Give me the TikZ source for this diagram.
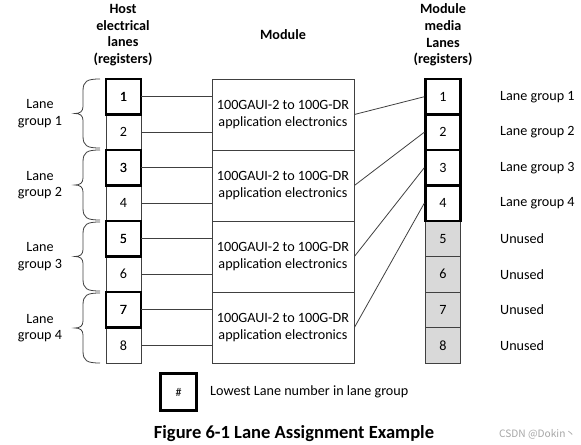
\documentclass[tikz,border=0pt]{standalone}
\usepackage{fontspec}
\setmainfont{Carlito}
\newfontfamily\cjk{Noto Sans CJK SC}
\begin{document}
\begin{tikzpicture}[x=1bp,y=-1bp,
  txt/.style={font=\fontsize{14.2}{16.7}\selectfont, inner sep=0pt, align=center},
  cell/.style={draw=black!75, line width=0.8bp, minimum width=35bp, minimum height=35.5bp, inner sep=0pt, font=\fontsize{14.2}{16.7}\selectfont},
  thickcell/.style={cell, draw=black, line width=2.5bp},
  unused/.style={cell, fill=black!15},
  modbox/.style={draw=black!75, line width=0.8bp, minimum width=142bp, minimum height=71bp, inner sep=0pt, align=center, font=\fontsize{14.2}{16.7}\selectfont},
  wire/.style={draw=black!75, line width=0.8bp},
  brace/.style={draw=black!75, line width=0.8bp}
]
\useasboundingbox (0,0) rectangle (581,445);

% headers
\node[txt, font=\bfseries\fontsize{14.2}{16.7}\selectfont] (hh) at (123,35) {Host\\electrical\\lanes\\(registers)};
\node[txt, font=\bfseries\fontsize{14.2}{16.7}\selectfont] (mh) at (283,35) {Module};
\node[txt, font=\bfseries\fontsize{14.2}{16.7}\selectfont] (rh) at (443,35) {Module\\media\\Lanes\\(registers)};

% host cells
\foreach \i in {1,...,8} {
  \pgfmathsetmacro{\yy}{79+35.5*(\i-0.5)}
  \node[cell] (h\i) at (123.5,\yy) {\i};
}
\foreach \i in {1,3,5,7} {
  \node[thickcell] (ht\i) at (h\i) {\i};
}

% module boxes
\foreach \j in {1,...,4} {
  \pgfmathsetmacro{\yy}{79+71*(\j-0.5)}
  \node[modbox] (m\j) at (283,\yy) {100GAUI-2 to 100G-DR\\application electronics};
}

% media cells
\foreach \i in {5,...,8} {
  \pgfmathsetmacro{\yy}{79+35.5*(\i-0.5)}
  \node[unused] (r\i) at (443,\yy) {\i};
}
\foreach \i in {1,...,4} {
  \pgfmathsetmacro{\yy}{79+35.5*(\i-0.5)}
  \node[thickcell] (r\i) at (443,\yy) {\i};
}

% host to module wires
\foreach \i/\j in {1/1,2/1,3/2,4/2,5/3,6/3,7/4,8/4} {
  \draw[wire] (h\i.east) -- (h\i.east -| m\j.west);
}
% module to media wires
\foreach \j in {1,...,4} {
  \draw[wire] (m\j.east) -- (r\j.west);
}

% right labels
\foreach \i in {1,...,4} {
  \node[txt, anchor=west] (rl\i) at (500,{79+35.5*(\i-0.5)}) {Lane group \i};
}
\foreach \i in {5,...,8} {
  \node[txt, anchor=west] (rl\i) at (500,{79+35.5*(\i-0.5)}) {Unused};
}

% braces and left labels
\foreach \g/\t/\b in {1/79/148, 2/150/220, 3/222/291, 4/293/363} {
  \pgfmathsetmacro{\m}{(\t+\b)/2}
  \draw[brace] (100,\t) .. controls (87,\t) and (83,\t+2) .. (83,\t+12)
    -- (83,\m-7) .. controls (83,\m-2) and (80,\m) .. (75,\m)
    .. controls (80,\m) and (83,\m+2) .. (83,\m+7)
    -- (83,\b-12) .. controls (83,\b-2) and (87,\b) .. (100,\b);
  \node[txt] (lg\g) at (40,\m) {Lane\\group \g};
}

% legend
\node[thickcell, minimum width=36bp, minimum height=37bp, font=\fontsize{12}{14}\selectfont] (leg) at (178.5,392) {\#};
\node[txt, anchor=west] (legt) at (210,392) {Lowest Lane number in lane group};

% caption
\node[txt, font=\bfseries\fontsize{18.6}{21}\selectfont] (cap) at (294,434) {Figure 6-1 Lane Assignment Example};
\node[txt, anchor=west, text=black!35, font=\cjk\fontsize{10.2}{12}\selectfont] (wm) at (499,434) {CSDN @Dokin丶};
\end{tikzpicture}
\end{document}
